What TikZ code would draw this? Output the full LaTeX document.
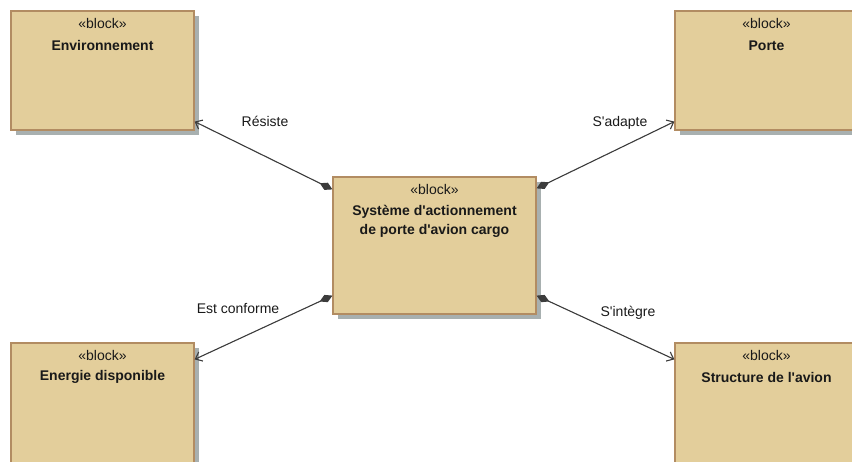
\documentclass[tikz,border=0pt]{standalone}
\usepackage{fontspec}
\setmainfont{Liberation Sans}[Ligatures=TeXOff]
\usetikzlibrary{arrows.meta,shadows}
\definecolor{blkfill}{RGB}{227,206,155}
\definecolor{blkdraw}{RGB}{178,140,98}
\definecolor{blkshadow}{RGB}{168,176,176}
\definecolor{linkgray}{RGB}{60,60,60}
\tikzset{
  block/.style={draw=blkdraw, fill=blkfill, line width=1.2pt, inner sep=0pt,
    minimum width=183pt, minimum height=119pt,
    drop shadow={shadow xshift=5pt, shadow yshift=-5pt, fill=blkshadow, opacity=1}},
  txt/.style={font=\fontsize{14}{19}\selectfont, text=black!90, align=center},
  assoc/.style={{Diamond[length=14pt,width=8pt]}-{Straight Barb[length=6pt,width=10pt]},
    draw=linkgray, fill=linkgray, line width=1.1pt}
}
\begin{document}
\begin{tikzpicture}[x=1pt, y=-1pt]
  \useasboundingbox (0,0) rectangle (852,462);
  \clip (0,0) rectangle (852,462);
  % outer blocks
  \foreach \n/\x/\y/\h/\t in {env/102.5/70.5/119/Environnement, porte/766.5/70.5/119/Porte,
      energie/102.5/408.5/131/Energie disponible, struct/766.5/408.5/131/Structure de l'avion} {
    \node[block, minimum height=\h pt] (\n) at (\x,\y) {};
    \node[txt] (\n-st) at ([yshift=-13pt]\n.north) {«block»};
    \node[txt] (\n-nm) at ([yshift=-35pt]\n.north) {\textbf{\t}};
  }
  % system block
  \node[block, minimum width=203pt, minimum height=137pt] (sys) at (434.5,245.5) {};
  \node[txt] (sys-st) at ([yshift=-13pt]sys.north) {«block»};
  \node[txt] (sys-nm) at ([yshift=-45pt]sys.north) {\textbf{Système d'actionnement}\\\textbf{de porte d'avion cargo}};
  % associations
  \draw[assoc] ([yshift=-13pt]sys.north west) -- ([yshift=9pt]env.south east);
  \draw[assoc] ([yshift=-12pt]sys.north east) -- ([yshift=9pt]porte.south west);
  \draw[assoc] ([yshift=19pt]sys.south west) -- ([yshift=-17pt]energie.north east);
  \draw[assoc] ([yshift=19pt]sys.south east) -- ([yshift=-17pt]struct.north west);
  \node[txt] (l-res) at (265,121) {Résiste};
  \node[txt] (l-ada) at (620,123) {S'adapte};
  \node[txt] (l-con) at (238,309) {Est conforme};
  \node[txt] (l-int) at (628,313) {S'intègre};
\end{tikzpicture}
\end{document}
